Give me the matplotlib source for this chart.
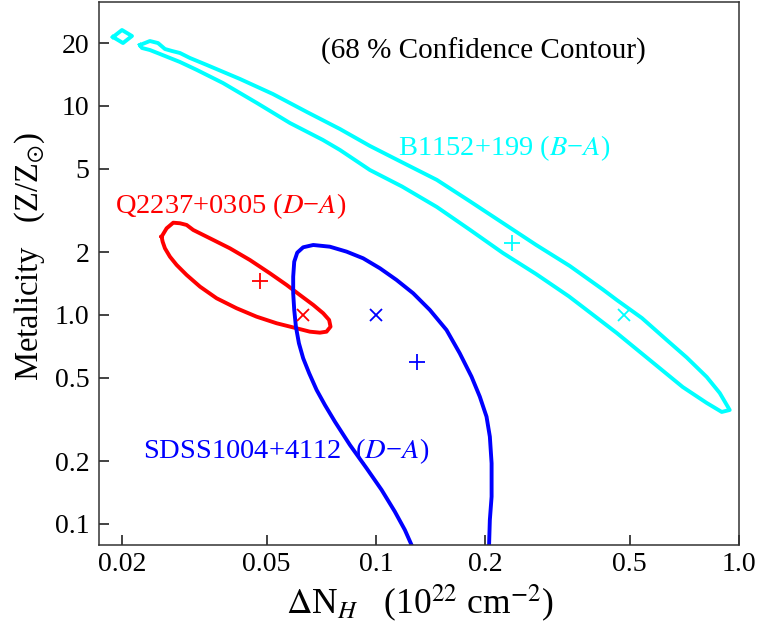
import matplotlib
matplotlib.use('Agg')
import matplotlib.pyplot as plt

plt.rcParams['font.family'] = ['Liberation Serif', 'DejaVu Serif']
plt.rcParams['mathtext.fontset'] = 'stix'

# ---- axis ticks ----
x_ticks = [0.02, 0.05, 0.1, 0.2, 0.5, 1.0]
x_ticklabels = ['0.02', '0.05', '0.1', '0.2', '0.5', '1.0']
y_ticks = [0.1, 0.2, 0.5, 1.0, 2, 5, 10, 20]
y_ticklabels = ['0.1', '0.2', '0.5', '1.0', '2', '5', '10', '20']

# ---- B1152+199 (B-A) 68% contour (cyan) ----
b1152_x = [0.02241, 0.02386, 0.02512, 0.02625, 0.02745, 0.02887, 0.03076, 0.03425,
           0.04223, 0.05205, 0.06457, 0.07963, 0.09627, 0.1180, 0.1472, 0.1815,
           0.2237, 0.2762, 0.342, 0.4220, 0.4606, 0.540, 0.6324, 0.7178, 0.8149,
           0.8850, 0.9428,
           0.8963, 0.8149, 0.6998, 0.5677, 0.4606, 0.3714, 0.3400, 0.2762, 0.2237,
           0.1815, 0.1472, 0.1180, 0.09627, 0.07963, 0.07145, 0.05799, 0.04702,
           0.03792, 0.03215, 0.02887, 0.02710, 0.02543, 0.02386, 0.02269]
b1152_y = [19.58, 20.46, 20.01, 18.74, 18.33, 17.93, 16.97, 15.71,
           13.47, 11.41, 9.36, 7.76, 6.44, 5.38, 4.43, 3.50,
           2.755, 2.164, 1.716, 1.323, 1.180, 0.9675, 0.759, 0.626, 0.505,
           0.4233, 0.351,
           0.3435, 0.3793, 0.4521, 0.609, 0.820, 1.092, 1.228, 1.570, 1.980,
           2.557, 3.287, 4.12, 4.94, 6.16, 6.88, 8.29, 10.34,
           12.88, 14.87, 16.24, 16.97, 17.74, 18.53, 18.95]
b1152_islet_x = [0.01888, 0.01999, 0.02130, 0.02012]
b1152_islet_y = [21.38, 23.10, 21.62, 20.01]
b1152_plus = (0.237, 2.21)
b1152_cross = (0.482, 1.0)

# ---- Q2237+0305 (D-A) 68% contour (red) ----
q2237_x = [0.02570, 0.02587, 0.02625, 0.02710, 0.02827, 0.03012, 0.03279, 0.03643,
           0.04134, 0.04693, 0.05329, 0.06048, 0.06580, 0.07013, 0.07313, 0.07501,
           0.07435, 0.07160, 0.06723, 0.06178, 0.05679, 0.05107, 0.04498, 0.03962,
           0.03491, 0.03141, 0.03012, 0.02887, 0.02767, 0.02653]
q2237_y = [2.370, 2.242, 2.085, 1.900, 1.735, 1.554, 1.366, 1.202,
           1.077, 0.9815, 0.9127, 0.8637, 0.8319, 0.8229, 0.8319, 0.879,
           0.9464, 1.019, 1.117, 1.246, 1.392, 1.583, 1.833, 2.085,
           2.328, 2.551, 2.696, 2.747, 2.764, 2.598]
q2237_plus = (0.0479, 1.455)
q2237_cross = (0.0628, 1.0)

# ---- SDSS1004+4112 (D-A) 68% contour (blue, open at bottom) ----
sdss_x = [0.2060, 0.2050, 0.2060, 0.2083, 0.2083, 0.2060, 0.2017, 0.1933, 0.1834,
          0.1702, 0.1565, 0.1408, 0.1267, 0.1140, 0.1026, 0.09226, 0.08307,
          0.07469, 0.06723, 0.06307, 0.06074, 0.05959, 0.05920, 0.05920, 0.05959,
          0.06023, 0.06139, 0.06307, 0.06551, 0.06868, 0.07239, 0.07712, 0.08482,
          0.09428, 0.1037, 0.1128, 0.1202, 0.1254, 0.1305]
sdss_y = [0.0673, 0.0793, 0.1045, 0.1351, 0.1952, 0.2617, 0.3262, 0.4065, 0.5068,
          0.6558, 0.8476, 1.057, 1.270, 1.471, 1.673, 1.867, 2.009,
          2.122, 2.162, 2.108, 1.987, 1.799, 1.525, 1.270, 1.057,
          0.879, 0.7321, 0.6206, 0.5263, 0.4377, 0.3709, 0.3087, 0.2388,
          0.1847, 0.1455, 0.1145, 0.0936, 0.0793, 0.0673]
sdss_plus = (0.1294, 0.594)
sdss_cross = (0.1, 1.0)

W, H = 762, 637
fig = plt.figure(figsize=(W / 100, H / 100), dpi=100)
ax = fig.add_axes([99 / W, (H - 545) / H, 640 / W, 543 / H])
ax.set_xscale('log')
ax.set_yscale('log')


def closed(xs, ys):
    return list(xs) + [xs[0]], list(ys) + [ys[0]]


lw = 2.8
cx, cy = closed(b1152_x, b1152_y)
ax.plot(cx, cy, color='cyan', lw=lw, solid_joinstyle='round')
cx, cy = closed(b1152_islet_x, b1152_islet_y)
ax.plot(cx, cy, color='cyan', lw=lw, solid_joinstyle='round')
cx, cy = closed(q2237_x, q2237_y)
ax.plot(cx, cy, color='red', lw=lw, solid_joinstyle='round')
ax.plot(sdss_x, sdss_y, color='blue', lw=lw, solid_joinstyle='round')

pk = dict(ms=12, mew=1.3, ls='none', marker='+')
xk = dict(ms=9, mew=1.3, ls='none', marker='x')
ax.plot(*b1152_plus, color='cyan', **pk)
ax.plot(*b1152_cross, color='cyan', **xk)
ax.plot(*q2237_plus, color='red', **pk)
ax.plot(*q2237_cross, color='red', **xk)
ax.plot(*sdss_plus, color='blue', **pk)
ax.plot(*sdss_cross, color='blue', **xk)

ax.set_xlim(0.01728, 1.0)
ax.set_ylim(0.0793, 31.45)
ax.set_xticks(x_ticks)
ax.set_xticklabels(x_ticklabels)
ax.set_yticks(y_ticks)
ax.set_yticklabels(y_ticklabels)
ax.minorticks_off()
ax.tick_params(axis='both', which='major', direction='in', length=7, width=1.2,
               labelsize=20, top=False, right=False, color='#222222')
ax.tick_params(axis='x', pad=5)
ax.tick_params(axis='y', pad=7)
for s in ax.spines.values():
    s.set_linewidth(1.1)
    s.set_color('#333333')


def axfrac(px, py):
    return (px - 99) / 640, (545 - py) / 543


ax.text(*axfrac(483, 59), '(68 % Confidence Contour)', transform=ax.transAxes,
        ha='center', va='baseline', fontsize=21, color='black')
ax.text(*axfrac(115, 213), 'Q2237+0305 ($D$\u2212$A$)', transform=ax.transAxes,
        ha='left', va='baseline', fontsize=20.5, color='red')
ax.text(*axfrac(398, 155), 'B1152+199 ($B$\u2212$A$)', transform=ax.transAxes,
        ha='left', va='baseline', fontsize=20.5, color='cyan')
ax.text(*axfrac(143, 458), 'SDSS1004+4112  ($D$\u2212$A$)', transform=ax.transAxes,
        ha='left', va='baseline', fontsize=20.5, color='blue')

fig.text(420 / W, 1 - 614 / H, r'$\Delta$N$_{H}$   (10$^{22}$ cm$^{-2}$)',
         ha='center', va='baseline', fontsize=25.5)
fig.text(30 / W, 1 - 256 / H, r'Metalicity   (Z/Z$_{\odot}$)',
         ha='center', va='center', rotation=90, fontsize=23.5)

fig.savefig('out.png', dpi=100)
